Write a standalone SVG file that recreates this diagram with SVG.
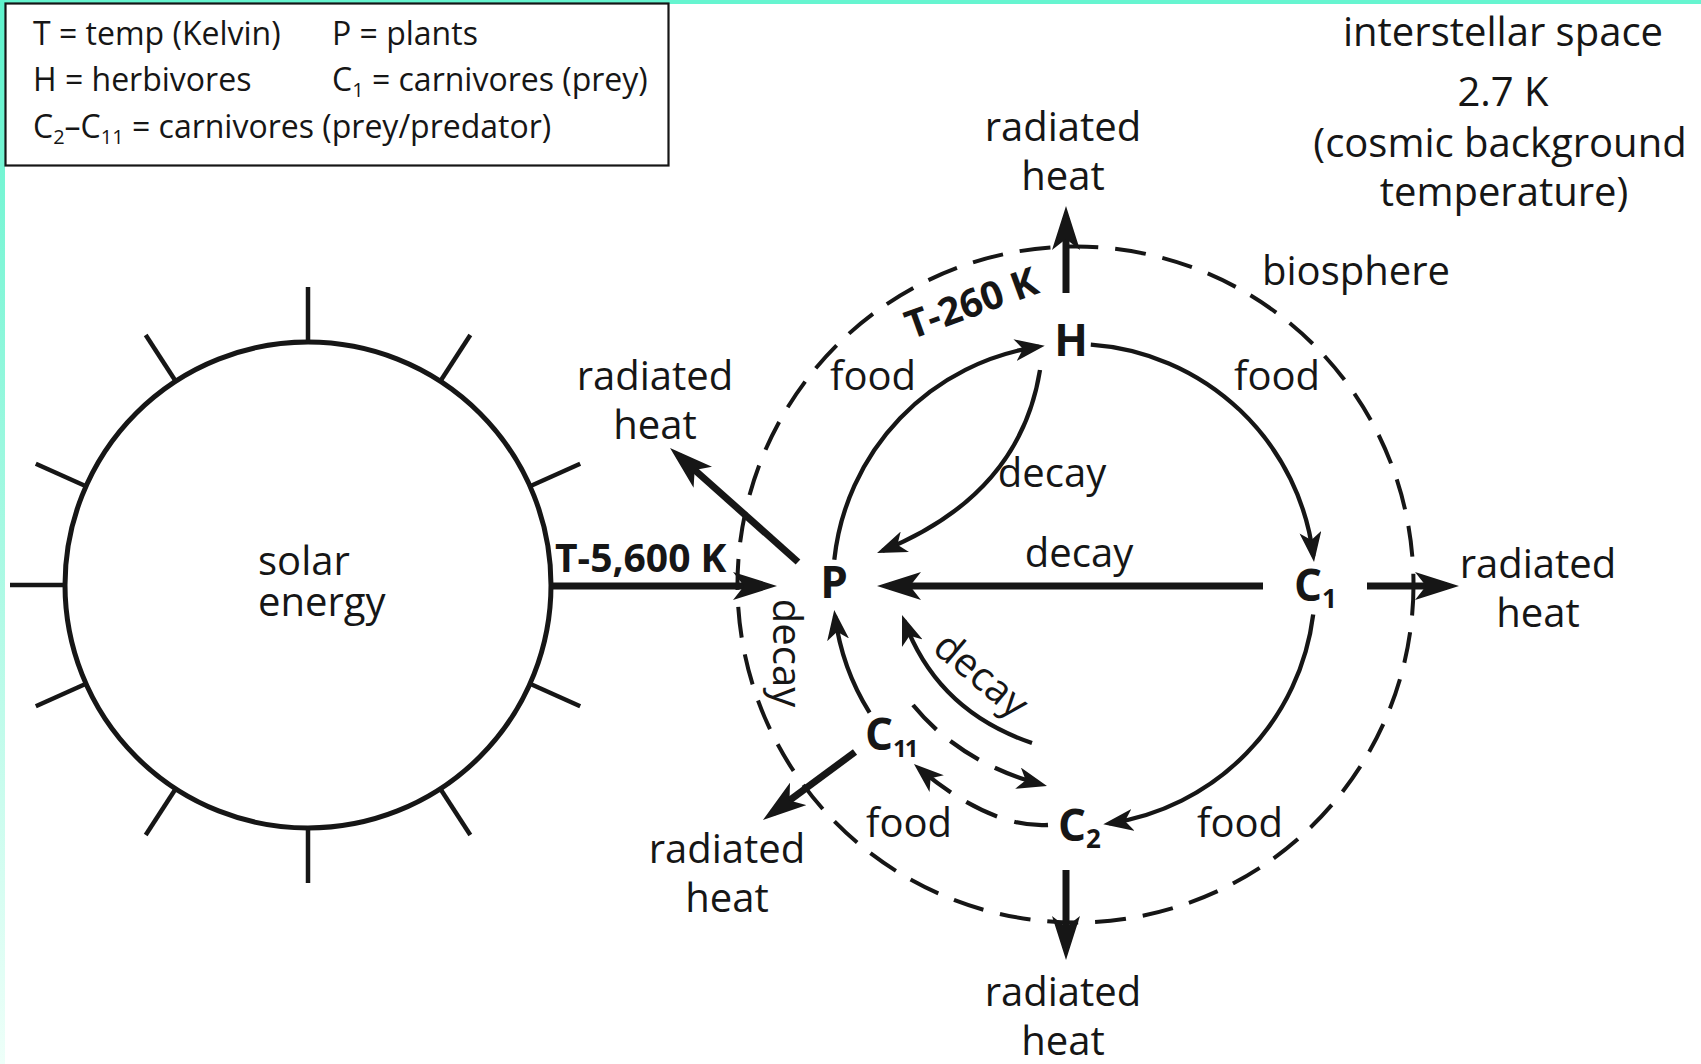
<svg xmlns="http://www.w3.org/2000/svg" width="1701" height="1064" viewBox="0 0 1701 1064">
<defs>
<style>
.t{font-family:"Open Sans","Noto Sans","DejaVu Sans",sans-serif;font-size:40px;fill:#161616}
.m{text-anchor:middle}
.b{font-weight:700;font-size:39px}
.n{font-weight:700;font-size:44px}
.lg{font-size:32px}
.thick{stroke:#161616;stroke-width:7;fill:none;marker-end:url(#ah)}
.thin{stroke:#161616;stroke-width:4.3;fill:none;marker-end:url(#as)}
.dash{stroke-dasharray:34 18}
.ray{stroke:#161616;stroke-width:4.5}
</style>
<linearGradient id="edge" x1="0" y1="0" x2="0" y2="1">
<stop offset="0" stop-color="#5ef3cc"/>
<stop offset="1" stop-color="#eefff9"/>
</linearGradient>
<marker id="ah" viewBox="0 0 44 28" markerWidth="44" markerHeight="28" refX="32" refY="14" orient="auto" markerUnits="userSpaceOnUse">
<path d="M44,14 L0,0 L11,14 L0,28 Z" fill="#161616"/>
</marker>
<marker id="as" viewBox="0 0 30 22" markerWidth="30" markerHeight="22" refX="24" refY="11" orient="auto" markerUnits="userSpaceOnUse">
<path d="M30,11 L0,0 L8,11 L0,22 Z" fill="#161616"/>
</marker>
</defs>
<rect width="1701" height="1064" fill="#fff"/>
<rect x="0" y="0" width="1701" height="4" fill="#66f5d0"/>
<rect x="0" y="0" width="5" height="1064" fill="url(#edge)"/>

<g id="legend">
<rect x="5.5" y="3.5" width="663" height="162" fill="#fff" stroke="#161616" stroke-width="2.2"/>
<text class="t lg" x="33" y="45">T = temp (Kelvin)</text>
<text class="t lg" x="332" y="45">P = plants</text>
<text class="t lg" x="33" y="91">H = herbivores</text>
<text class="t lg" x="332" y="91">C<tspan font-size="20" dy="6">1</tspan><tspan dy="-6"> = carnivores (prey)</tspan></text>
<text class="t lg" x="33" y="138">C<tspan font-size="20" dy="6">2</tspan><tspan dy="-6">–C</tspan><tspan font-size="20" dy="6">11</tspan><tspan dy="-6"> = carnivores (prey/predator)</tspan></text>
</g>

<g id="space-label">
<text class="t m" x="1503" y="46">interstellar space</text>
<text class="t m" x="1503" y="106">2.7 K</text>
<text class="t m" x="1500" y="157">(cosmic background</text>
<text class="t m" x="1504" y="206">temperature)</text>
</g>

<g id="sun">
<circle cx="308" cy="585" r="243" fill="none" stroke="#161616" stroke-width="5"/>
<line class="ray" x1="530" y1="486.2" x2="580.2" y2="463.8"/>
<line class="ray" x1="440.3" y1="381.2" x2="470.3" y2="335.1"/>
<line class="ray" x1="308" y1="342" x2="308" y2="287"/>
<line class="ray" x1="175.7" y1="381.2" x2="145.7" y2="335.1"/>
<line class="ray" x1="86" y1="486.2" x2="35.8" y2="463.8"/>
<line class="ray" x1="65" y1="585" x2="10" y2="585"/>
<line class="ray" x1="86" y1="683.8" x2="35.8" y2="706.2"/>
<line class="ray" x1="175.7" y1="788.8" x2="145.7" y2="834.9"/>
<line class="ray" x1="308" y1="828" x2="308" y2="883"/>
<line class="ray" x1="440.3" y1="788.8" x2="470.3" y2="834.9"/>
<line class="ray" x1="530" y1="683.8" x2="580.2" y2="706.2"/>
<text class="t" x="258" y="575">solar</text>
<text class="t" x="258" y="616">energy</text>
</g>

<g id="biosphere">
<circle cx="1075.5" cy="584.5" r="338" fill="none" stroke="#161616" stroke-width="4" stroke-dasharray="31 17"/>
<text class="t m" x="1356" y="285">biosphere</text>
</g>

<g id="node-P"><text class="t n m" x="834" y="598">P</text></g>
<g id="node-H"><text class="t n m" x="1071" y="356">H</text></g>
<g id="node-C1"><text class="t n" x="1294" y="601">C<tspan font-size="26" dy="7">1</tspan></text></g>
<g id="node-C2"><text class="t n" x="1058" y="841">C<tspan font-size="26" dy="7">2</tspan></text></g>
<g id="node-C11"><text class="t n" x="865" y="750">C<tspan font-size="24" dy="7" letter-spacing="-2">11</tspan></text></g>

<g id="connectors">
<path class="thick" d="M551,586 H765"/>
<path class="thick" d="M1263,586 H889"/>
<path class="thick" d="M1066,293 V218"/>
<path class="thick" d="M798,562 L679,456"/>
<path class="thick" d="M1367,586 H1447"/>
<path class="thick" d="M855,752 L772.6,812.9"/>
<path class="thick" d="M1066,870 V948"/>

<path class="thin" d="M834.3,559.8 A241,241 0 0 1 1038.8,346.6"/>
<path class="thin" d="M1090.8,344.6 A241,241 0 0 1 1313.3,556"/>
<path class="thin" d="M1313.2,614.4 A241,241 0 0 1 1109.2,823.4"/>
<path class="thin" d="M869.6,712.7 A241,241 0 0 1 835,616"/>
<path class="thin" d="M1040,370 Q1020,495 882.6,550.7"/>
<path class="thin" d="M1032,743 Q937,711 904.1,620.6"/>
<path class="thin dash" d="M913,705 Q960,762.5 1041.2,784.4"/>
<path class="thin dash" d="M1048,825 C1000,828 950,795 918.5,767.9"/>
</g>

<g id="labels">
<text class="t m" x="1063" y="141">radiated</text>
<text class="t m" x="1063" y="190">heat</text>
<text class="t m" x="655" y="390">radiated</text>
<text class="t m" x="655" y="439">heat</text>
<text class="t m" x="1538" y="578">radiated</text>
<text class="t m" x="1538" y="627">heat</text>
<text class="t m" x="727" y="863">radiated</text>
<text class="t m" x="727" y="912">heat</text>
<text class="t m" x="1063" y="1006">radiated</text>
<text class="t m" x="1063" y="1055">heat</text>
<text class="t m" x="873" y="390">food</text>
<text class="t m" x="1277" y="390">food</text>
<text class="t m" x="909" y="837">food</text>
<text class="t m" x="1240" y="837">food</text>
<text class="t m" x="1052" y="487">decay</text>
<text class="t m" x="1079" y="567">decay</text>
<text class="t m" transform="translate(773,653) rotate(90)">decay</text>
<text class="t m" transform="translate(972.6,685.2) rotate(40)">decay</text>
<text class="t b" x="555" y="572">T-5,600 K</text>
<text class="t b m" transform="translate(976,316) rotate(-20)">T-260 K</text>
</g>
</svg>
